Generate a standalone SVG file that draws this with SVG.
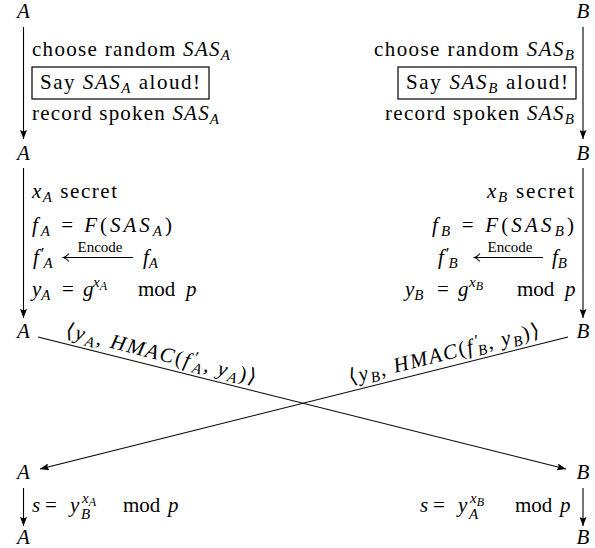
<svg xmlns="http://www.w3.org/2000/svg" width="595" height="548" viewBox="0 0 595 548">
<style>
.t{font-family:"Liberation Serif","DejaVu Serif",serif;font-size:21px;fill:#000}
.i{font-style:italic}
.s{font-size:15px}
.ss{font-size:12px}
.pr{font-size:17px}
.enc{font-size:15px}
.ln{stroke:#000;stroke-width:1.1;fill:none}
.box{stroke:#000;stroke-width:1.2;fill:none}
</style>
<defs>
<marker id="ah" viewBox="0 0 9 7" refX="9" refY="3.5" markerWidth="9" markerHeight="7" markerUnits="userSpaceOnUse" orient="auto">
<path d="M0,0 L9,3.5 L0,7 L1.5,3.5 z" fill="#000"/>
</marker>
</defs>
<rect width="595" height="548" fill="#fff"/>

<g id="connectors">
<line class="ln" x1="23.5" y1="27" x2="23.5" y2="139" marker-end="url(#ah)"/>
<line class="ln" x1="583" y1="27" x2="583" y2="139" marker-end="url(#ah)"/>
<line class="ln" x1="23.5" y1="168" x2="23.5" y2="318" marker-end="url(#ah)"/>
<line class="ln" x1="583" y1="168" x2="583" y2="318" marker-end="url(#ah)"/>
<line class="ln" x1="38" y1="337" x2="566" y2="469" marker-end="url(#ah)"/>
<line class="ln" x1="568" y1="337" x2="40" y2="469" marker-end="url(#ah)"/>
<line class="ln" x1="23.5" y1="488" x2="23.5" y2="526" marker-end="url(#ah)"/>
<line class="ln" x1="583" y1="488" x2="583" y2="526" marker-end="url(#ah)"/>
<g transform="translate(158,366) rotate(14.04)">
<text class="t" x="0" y="-6" text-anchor="middle" textLength="196" lengthAdjust="spacing">⟨<tspan class="i">y</tspan><tspan class="i s" dy="4">A</tspan><tspan dy="-4">, </tspan><tspan class="i">HMAC</tspan>(<tspan class="i">f</tspan><tspan class="pr" dx="2" dy="-6">′</tspan><tspan class="i s" dx="-5" dy="10">A</tspan><tspan dy="-4">, </tspan><tspan class="i">y</tspan><tspan class="i s" dy="4">A</tspan><tspan dy="-4">)⟩</tspan></text>
</g>
<g transform="translate(447,366) rotate(-14.04)">
<text class="t" x="0" y="-6" text-anchor="middle" textLength="196" lengthAdjust="spacing">⟨<tspan class="i">y</tspan><tspan class="i s" dy="4">B</tspan><tspan dy="-4">, </tspan><tspan class="i">HMAC</tspan>(<tspan class="i">f</tspan><tspan class="pr" dx="2" dy="-6">′</tspan><tspan class="i s" dx="-5" dy="10">B</tspan><tspan dy="-4">, </tspan><tspan class="i">y</tspan><tspan class="i s" dy="4">B</tspan><tspan dy="-4">)⟩</tspan></text>
</g>
</g>

<g id="nodeA0"><text class="t i" x="23.5" y="18" text-anchor="middle">A</text></g>
<g id="nodeB0"><text class="t i" x="583" y="18" text-anchor="middle">B</text></g>
<g id="nodeA1"><text class="t i" x="23.5" y="160" text-anchor="middle">A</text></g>
<g id="nodeB1"><text class="t i" x="583" y="160" text-anchor="middle">B</text></g>
<g id="nodeA2"><text class="t i" x="23.5" y="338" text-anchor="middle">A</text></g>
<g id="nodeB2"><text class="t i" x="583" y="338" text-anchor="middle">B</text></g>
<g id="nodeA3"><text class="t i" x="23.5" y="479" text-anchor="middle">A</text></g>
<g id="nodeB3"><text class="t i" x="583" y="479" text-anchor="middle">B</text></g>
<g id="nodeA4"><text class="t i" x="23.5" y="544" text-anchor="middle">A</text></g>
<g id="nodeB4"><text class="t i" x="583" y="544" text-anchor="middle">B</text></g>

<g id="stepA1">
<text class="t" x="32" y="56" textLength="198" lengthAdjust="spacing">choose random <tspan class="i">SAS</tspan><tspan class="i s" dy="4">A</tspan></text>
<rect class="box" x="32" y="67" width="177" height="32"/>
<text class="t" x="40" y="89" textLength="160" lengthAdjust="spacing">Say <tspan class="i">SAS</tspan><tspan class="i s" dy="4">A</tspan><tspan dy="-4"> aloud!</tspan></text>
<text class="t" x="32" y="120" textLength="187" lengthAdjust="spacing">record spoken <tspan class="i">SAS</tspan><tspan class="i s" dy="4">A</tspan></text>
</g>
<g id="stepB1">
<text class="t" x="574" y="56" text-anchor="end" textLength="200" lengthAdjust="spacing">choose random <tspan class="i">SAS</tspan><tspan class="i s" dy="4">B</tspan></text>
<rect class="box" x="398" y="67" width="178" height="32"/>
<text class="t" x="406" y="89" textLength="162" lengthAdjust="spacing">Say <tspan class="i">SAS</tspan><tspan class="i s" dy="4">B</tspan><tspan dy="-4"> aloud!</tspan></text>
<text class="t" x="574" y="120" text-anchor="end" textLength="189" lengthAdjust="spacing">record spoken <tspan class="i">SAS</tspan><tspan class="i s" dy="4">B</tspan></text>
</g>

<g id="stepA2">
<text class="t" x="32" y="198" textLength="85" lengthAdjust="spacing"><tspan class="i">x</tspan><tspan class="i s" dy="4">A</tspan><tspan dy="-4"> secret</tspan></text>
<text class="t" x="32" y="232" textLength="140" lengthAdjust="spacing"><tspan class="i">f</tspan><tspan class="i s" dy="4">A</tspan><tspan dy="-4"> = </tspan><tspan class="i">F</tspan>(<tspan class="i">SAS</tspan><tspan class="i s" dy="4">A</tspan><tspan dy="-4">)</tspan></text>
<text class="t" x="33" y="264"><tspan class="i">f</tspan><tspan class="pr" dx="2" dy="-5">′</tspan><tspan class="i s" dx="-1" dy="9">A</tspan></text>
<text class="t enc" x="100" y="252" text-anchor="middle">Encode</text>
<line class="ln" x1="64" y1="257.5" x2="133" y2="257.5"/>
<path class="ln" d="M69,253.5 Q66,256.8 63.5,257.5 Q66,258.2 69,261.5"/>
<text class="t" x="143" y="264"><tspan class="i">f</tspan><tspan class="i s" dy="4">A</tspan></text>
<text class="t" y="296"><tspan class="i" x="32">y</tspan><tspan class="i s" dy="4">A</tspan><tspan x="62" dy="-4">=</tspan><tspan class="i" x="83">g</tspan><tspan class="i s" x="93" dy="-9">x</tspan><tspan class="i ss" dy="3">A</tspan><tspan x="138" dy="6">mod</tspan><tspan class="i" x="186">p</tspan></text>
</g>
<g id="stepB2">
<text class="t" x="574" y="198" text-anchor="end" textLength="87" lengthAdjust="spacing"><tspan class="i">x</tspan><tspan class="i s" dy="4">B</tspan><tspan dy="-4"> secret</tspan></text>
<text class="t" x="574" y="232" text-anchor="end" textLength="142" lengthAdjust="spacing"><tspan class="i">f</tspan><tspan class="i s" dy="4">B</tspan><tspan dy="-4"> = </tspan><tspan class="i">F</tspan>(<tspan class="i">SAS</tspan><tspan class="i s" dy="4">B</tspan><tspan dy="-4">)</tspan></text>
<text class="t" x="438" y="264"><tspan class="i">f</tspan><tspan class="pr" dx="2" dy="-5">′</tspan><tspan class="i s" dx="-1" dy="9">B</tspan></text>
<text class="t enc" x="510" y="252" text-anchor="middle">Encode</text>
<line class="ln" x1="475" y1="257.5" x2="543" y2="257.5"/>
<path class="ln" d="M480,253.5 Q477,256.8 474.5,257.5 Q477,258.2 480,261.5"/>
<text class="t" x="552" y="264"><tspan class="i">f</tspan><tspan class="i s" dy="4">B</tspan></text>
<text class="t" y="296"><tspan class="i" x="405">y</tspan><tspan class="i s" dy="4">B</tspan><tspan x="437" dy="-4">=</tspan><tspan class="i" x="458">g</tspan><tspan class="i s" x="469" dy="-9">x</tspan><tspan class="i ss" dy="3">B</tspan><tspan x="517" dy="6">mod</tspan><tspan class="i" x="565">p</tspan></text>
</g>

<g id="stepA3">
<text class="t" y="512"><tspan class="i" x="32">s</tspan><tspan x="45">=</tspan><tspan class="i" x="70">y</tspan><tspan class="i s" x="82" dy="-9">x</tspan><tspan class="i ss" dy="3">A</tspan><tspan class="i s" x="81" dy="13">B</tspan><tspan x="123" dy="-7">mod</tspan><tspan class="i" x="168">p</tspan></text>
</g>
<g id="stepB3">
<text class="t" y="512"><tspan class="i" x="420">s</tspan><tspan x="433">=</tspan><tspan class="i" x="458">y</tspan><tspan class="i s" x="470" dy="-9">x</tspan><tspan class="i ss" dy="3">B</tspan><tspan class="i s" x="469" dy="13">A</tspan><tspan x="515" dy="-7">mod</tspan><tspan class="i" x="560">p</tspan></text>
</g>
</svg>
